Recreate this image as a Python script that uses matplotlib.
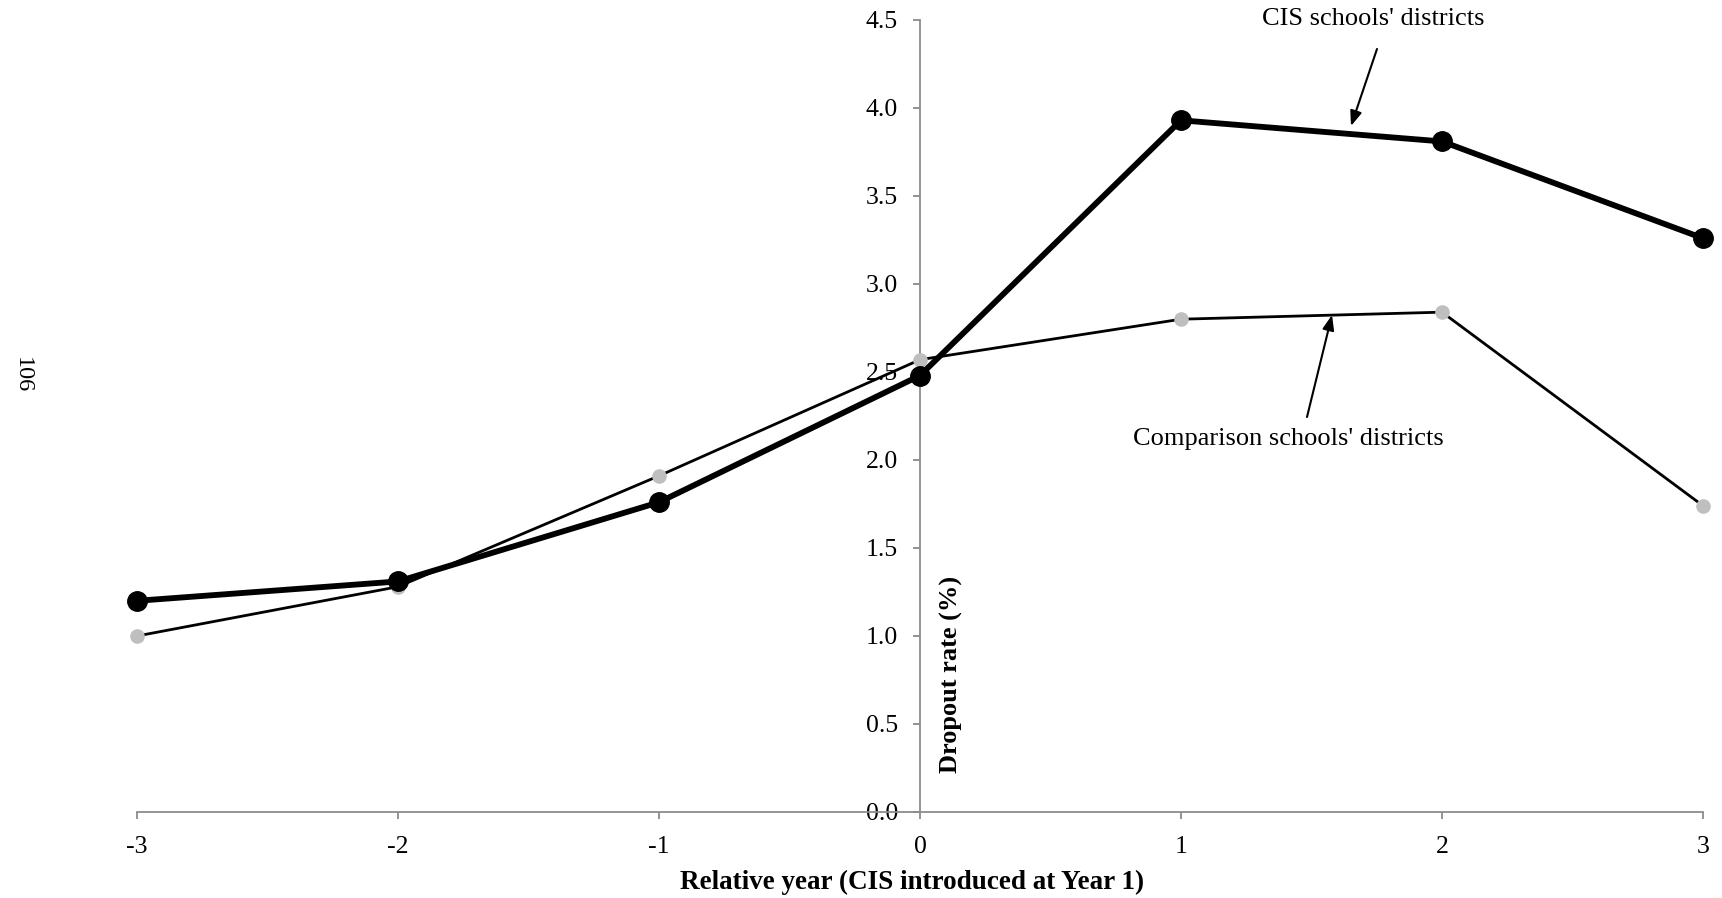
import matplotlib
matplotlib.use("Agg")
import matplotlib.pyplot as plt

plt.rcParams['font.family'] = ['Liberation Serif', 'DejaVu Serif']

years = [-3, -2, -1, 0, 1, 2, 3]
year_labels = ['-3', '-2', '-1', '0', '1', '2', '3']
cis = [1.20, 1.31, 1.76, 2.48, 3.93, 3.81, 3.26]
comparison = [1.00, 1.28, 1.91, 2.57, 2.80, 2.84, 1.74]
y_ticks = [0.0, 0.5, 1.0, 1.5, 2.0, 2.5, 3.0, 3.5, 4.0, 4.5]

W, H = 1722, 898
fig = plt.figure(figsize=(W / 100, H / 100), dpi=100)
ax = fig.add_axes([137 / W, 1 - 812 / H, (1703 - 137) / W, (812 - 20) / H])

ax.plot(years, comparison, color='black', lw=2.0, marker='o', ms=9.5,
        mfc='#BFBFBF', mec='#BFBFBF', clip_on=False, zorder=3)
ax.plot(years, cis, color='black', lw=4.2, marker='o', ms=14,
        mfc='black', mec='black', clip_on=False, zorder=4)

ax.set_xlim(-3, 3)
ax.set_ylim(0, 4.5)
ax.set_xticks(years)
ax.set_xticklabels(year_labels)
ax.set_yticks(y_ticks)
ax.set_yticklabels([f'{v:.1f}' for v in y_ticks])

for s in ['top', 'right']:
    ax.spines[s].set_visible(False)
ax.spines['left'].set_position(('data', 0))
ax.spines['bottom'].set_position(('data', 0))
for s in ['left', 'bottom']:
    ax.spines[s].set_color('#8C8C8C')
    ax.spines[s].set_linewidth(1.3)

ax.tick_params(axis='y', direction='out', length=5, width=1.3, color='#8C8C8C',
               labelsize=18.5, pad=11)
ax.tick_params(axis='x', direction='out', length=5, width=1.3, color='#8C8C8C',
               labelsize=18.5, pad=12)

fig.text(951 / W, 1 - 674 / H, 'Dropout rate (%)', rotation=90, fontsize=19,
         fontweight='bold', ha='center', va='center')
fig.text(912 / W, 1 - 882 / H, 'Relative year (CIS introduced at Year 1)',
         fontsize=19.5, fontweight='bold', ha='center', va='center')
fig.text(22 / W, 1 - 375 / H, '106', rotation=-90, fontsize=17.5,
         ha='center', va='center')

fig.text(1373 / W, 1 - 19 / H, "CIS schools' districts", fontsize=19,
         ha='center', va='center')
fig.text(1288 / W, 1 - 439 / H, "Comparison schools' districts", fontsize=19,
         ha='center', va='center')

arrowprops = dict(arrowstyle='-|>,head_length=0.9,head_width=0.35', color='black', lw=1.5,
                  shrinkA=0, shrinkB=0)
ax.annotate('', xy=(1351 / W, 1 - 126 / H), xycoords='figure fraction',
            xytext=(1377 / W, 1 - 49 / H), textcoords='figure fraction',
            arrowprops=arrowprops)
ax.annotate('', xy=(1332 / W, 1 - 315 / H), xycoords='figure fraction',
            xytext=(1307 / W, 1 - 417 / H), textcoords='figure fraction',
            arrowprops=arrowprops)

fig.savefig('out.png', dpi=100)
